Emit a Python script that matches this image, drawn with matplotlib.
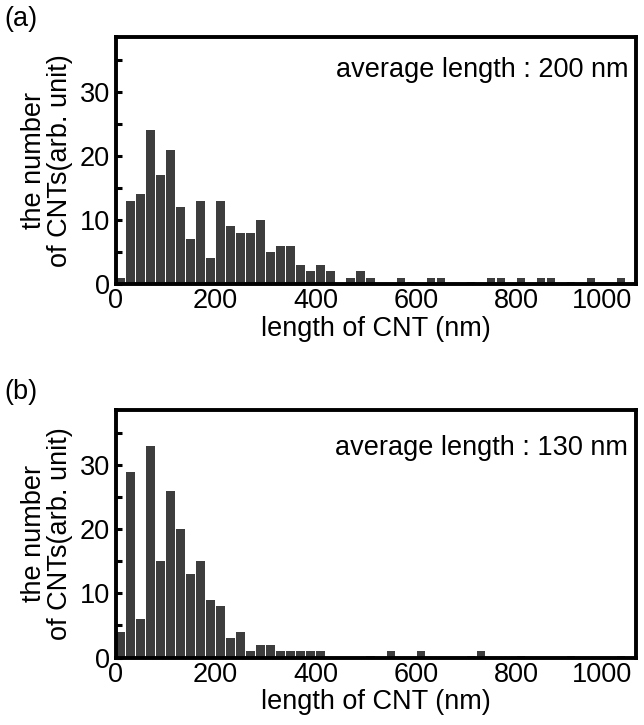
import matplotlib
matplotlib.use("Agg")
import matplotlib.pyplot as plt
import matplotlib.transforms as mtransforms
import numpy as np

plt.rcParams['font.family'] = ['Liberation Sans', 'DejaVu Sans']

bin_width = 20  # nm
# counts per 20 nm bin, starting at 0 nm
counts_a = [1, 13, 14, 24, 17, 21, 12, 7, 13, 4, 13, 9, 8, 8, 10, 5, 6, 6, 3, 2,
            3, 2, 0, 1, 2, 1, 0, 0, 1, 0.25, 0, 1, 1, 0, 0, 0.25, 0, 1, 1, 0,
            1, 0, 1, 1, 0, 0.25, 0, 1, 0, 0, 1]
counts_b = [4, 29, 6, 33, 15, 26, 20, 13, 15, 9, 8, 3, 4, 1, 2, 2, 1, 1, 1, 1,
            1, 0, 0, 0, 0, 0.25, 0, 1, 0, 0, 1, 0, 0, 0, 0, 0.25, 1, 0, 0, 0,
            0.25, 0, 0, 0, 0, 0.25, 0, 0, 0, 0, 0.25]
panel_labels = ['(a)', '(b)']
avg_texts = ['average length : 200 nm', 'average length : 130 nm']
xticks = [0, 200, 400, 600, 800, 1000]
yticks_major = [0, 10, 20, 30]
yticks_minor = [5, 15, 25, 35]
xlabel = 'length of CNT (nm)'
ylabel = 'the number\nof CNTs(arb. unit)'

W, H = 644, 725
fig = plt.figure(figsize=(W / 100, H / 100), dpi=100)

fs = 19.5
bar_color = '#3d3d3d'

panels = [
    dict(counts=counts_a, top=37, bottom=284, label_y=6, text_y=0.866),
    dict(counts=counts_b, top=410, bottom=657.5, label_y=379, text_y=0.848),
]
left_px, right_px = 115.5, 636

for i, p in enumerate(panels):
    ax = fig.add_axes([left_px / W, 1 - p['bottom'] / H,
                       (right_px - left_px) / W, (p['bottom'] - p['top']) / H])
    c = np.array(p['counts'], dtype=float)
    centers = np.arange(len(c)) * bin_width + bin_width / 2
    ax.bar(centers, c, width=17, color=bar_color, edgecolor='none', zorder=2)
    ax.set_xlim(0, 1040)
    ax.set_ylim(0, 38.6)
    for s in ax.spines.values():
        s.set_linewidth(2.8)
        s.set_zorder(3)
    ax.set_yticks(yticks_major)
    ax.set_yticks(yticks_minor, minor=True)
    ax.set_xticks(xticks)
    ax.tick_params(axis='y', which='both', direction='in', length=4, width=2.2,
                   labelsize=fs, pad=4, left=True, right=False)
    ax.tick_params(axis='x', which='both', length=0, labelsize=fs, pad=3)
    # keep the last x tick label inside the figure, as in the reference
    last = ax.get_xticklabels()[-1]
    last.set_transform(last.get_transform() +
                       mtransforms.ScaledTranslation(-14 / 100, 0, fig.dpi_scale_trans))
    ax.set_xlabel(xlabel, fontsize=fs, labelpad=1)
    ax.set_ylabel(ylabel, fontsize=fs, labelpad=5, linespacing=1.0)
    ax.text(0.985, p['text_y'], avg_texts[i], transform=ax.transAxes,
            ha='right', va='center', fontsize=fs)
    fig.text(4 / W, 1 - p['label_y'] / H, panel_labels[i], ha='left', va='top',
             fontsize=fs)

fig.savefig('out.png', dpi=100)
